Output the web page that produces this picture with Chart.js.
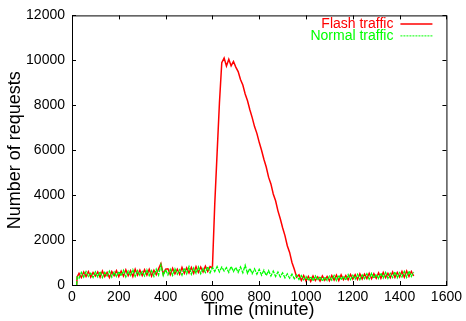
<!DOCTYPE html>
<html>
<head>
<meta charset="utf-8">
<script src="https://cdn.jsdelivr.net/npm/chart.js@4/dist/chart.umd.min.js"></script>
<style>
  html, body { margin: 0; padding: 0; background: #fff; }
  canvas { display: block; }
</style>
</head>
<body>
<canvas id="traffic" width="466" height="321"></canvas>
<script>
// time axis (minutes)
const minutes = [
  20, 22, 30, 40, 50, 60, 70, 80, 90, 100,
  110, 120, 130, 140, 150, 160, 170, 180, 190, 200,
  210, 220, 230, 240, 250, 260, 270, 280, 290, 300,
  310, 320, 330, 340, 350, 360, 370, 380, 390, 400,
  410, 420, 430, 440, 450, 460, 470, 480, 490, 500,
  510, 520, 530, 540, 550, 560, 570, 580, 590, 600,
  610, 620, 630, 640, 650, 660, 670, 680, 690, 700,
  710, 720, 730, 740, 750, 760, 770, 780, 790, 800,
  810, 820, 830, 840, 850, 860, 870, 880, 890, 900,
  910, 920, 930, 940, 950, 960, 970, 980, 990, 1000,
  1010, 1020, 1030, 1040, 1050, 1060, 1070, 1080, 1090, 1100,
  1110, 1120, 1130, 1140, 1150, 1160, 1170, 1180, 1190, 1200,
  1210, 1220, 1230, 1240, 1250, 1260, 1270, 1280, 1290, 1300,
  1310, 1320, 1330, 1340, 1350, 1360, 1370, 1380, 1390, 1400,
  1410, 1420, 1430, 1440, 1450, 1460
]

const flashTraffic = [
  0, 360, 520, 330, 580, 380, 600, 350, 560, 400,
  580, 340, 620, 380, 560, 330, 600, 420, 640, 380,
  620, 400, 680, 420, 640, 380, 700, 440, 660, 420,
  680, 440, 700, 400, 660, 460, 720, 950, 480, 700,
  720, 460, 740, 500, 700, 480, 780, 520, 760, 540,
  780, 520, 820, 560, 800, 580, 840, 600, 820, 760,
  3600, 5860, 8100, 9900, 10100, 9750, 10050, 9750, 9950, 9700,
  9500, 9150, 8900, 8500, 8200, 7800, 7450, 7050, 6750, 6350,
  6000, 5600, 5250, 4800, 4500, 4050, 3750, 3300, 2950, 2550,
  2200, 1750, 1450, 1000, 700, 350, 450, 200, 420, 180,
  380, 160, 400, 200, 360, 170, 400, 210, 380, 190,
  420, 220, 440, 200, 450, 240, 420, 230, 470, 260,
  460, 250, 500, 270, 480, 290, 520, 280, 500, 300,
  540, 300, 560, 330, 520, 320, 580, 340, 560, 360,
  600, 350, 620, 380, 600, 400
]

const normalTraffic = [
  0, 360, 300, 560, 350, 600, 380, 520, 330, 580,
  360, 600, 330, 560, 400, 620, 350, 580, 380, 600,
  400, 650, 360, 620, 420, 680, 380, 640, 430, 600,
  400, 680, 420, 640, 380, 700, 440, 900, 420, 680,
  450, 700, 430, 720, 480, 680, 440, 760, 500, 820,
  480, 760, 520, 800, 500, 740, 560, 820, 540, 780,
  600, 820, 580, 800, 620, 780, 560, 830, 600, 780,
  560, 800, 540, 880, 520, 740, 500, 720, 480, 700,
  440, 660, 420, 640, 400, 620, 380, 580, 360, 540,
  320, 500, 300, 480, 280, 440, 250, 420, 230, 380,
  200, 380, 180, 400, 210, 380, 170, 360, 200, 390,
  220, 420, 200, 440, 230, 400, 210, 460, 240, 430,
  260, 480, 240, 450, 280, 500, 260, 520, 300, 480,
  290, 530, 310, 560, 300, 520, 330, 580, 320, 550,
  360, 600, 340, 620, 380, 580
]

const xTicks = [0, 200, 400, 600, 800, 1000, 1200, 1400, 1600]
const yTicks = [0, 2000, 4000, 6000, 8000, 10000, 12000]

const FONT = "'Liberation Sans', Arial, Helvetica, sans-serif"

// gnuplot style frame with inward ticks on all four sides + key in top right
const gnuplotFrame = {
    id: "gnuplotFrame",
    afterDraw(chart) {
        const { ctx, chartArea: a, scales } = chart
        ctx.save()
        ctx.strokeStyle = "#000"
        ctx.lineWidth = 1
        ctx.strokeRect(a.left + 0.5, a.top + 0.5, a.right - a.left, a.bottom - a.top)
        ctx.beginPath()
        xTicks.forEach(v => {
            const px = Math.round(scales.x.getPixelForValue(v)) + 0.5
            ctx.moveTo(px, a.bottom); ctx.lineTo(px, a.bottom - 4)
            ctx.moveTo(px, a.top); ctx.lineTo(px, a.top + 4)
        })
        yTicks.forEach(v => {
            const py = Math.round(scales.y.getPixelForValue(v)) + 0.5
            ctx.moveTo(a.left, py); ctx.lineTo(a.left + 4, py)
            ctx.moveTo(a.right, py); ctx.lineTo(a.right - 4, py)
        })
        ctx.stroke()

        // key
        ctx.font = "14px " + FONT
        ctx.textAlign = "right"
        ctx.textBaseline = "alphabetic"
        chart.data.datasets.forEach((ds, i) => {
            const base = a.top + 13 + i * 12
            ctx.fillStyle = ds.borderColor
            ctx.fillText(ds.label, a.right - 53, base)
            ctx.beginPath()
            ctx.strokeStyle = ds.borderColor
            ctx.lineWidth = i === 0 ? 1.5 : 1
            ctx.setLineDash(i === 0 ? [] : [2, 1])
            ctx.moveTo(a.right - 46, base - 4.5)
            ctx.lineTo(a.right - 14, base - 4.5)
            ctx.stroke()
        })
        ctx.restore()
    }
}

const obj = document.getElementById("traffic")

new Chart(obj, {
    type: "line",
    data: {
        datasets: [
            {
                label: "Flash traffic",
                data: minutes.map((m, i) => ({ x: m, y: flashTraffic[i] })),
                borderColor: "#ff0000",
                borderWidth: 1.5,
                pointRadius: 0,
                order: 2
            },
            {
                label: "Normal traffic",
                data: minutes.map((m, i) => ({ x: m, y: normalTraffic[i] })),
                borderColor: "#00ff00",
                borderWidth: 1.3,
                borderDash: [4, 1],
                pointRadius: 0,
                order: 1
            }
        ]
    },
    options: {
        responsive: false,
        animation: false,
        devicePixelRatio: 1,
        layout: { padding: { top: 10, right: 16, left: 0, bottom: 0 } },
        plugins: { legend: { display: false }, tooltip: { enabled: false } },
        scales: {
            x: {
                type: "linear",
                min: 0,
                max: 1600,
                afterFit: s => { s.height = 36 },
                afterBuildTicks: s => { s.ticks = xTicks.map(v => ({ value: v })) },
                grid: { display: false, drawTicks: false },
                border: { display: false },
                ticks: {
                    color: "#000", padding: 4, maxRotation: 0,
                    font: { family: FONT, size: 14 },
                    callback: v => String(v)
                },
                title: {
                    display: true,
                    text: "Time (minute)",
                    color: "#000",
                    padding: { top: 0, bottom: 0 },
                    font: { family: FONT, size: 18 }
                }
            },
            y: {
                min: 0,
                max: 12000,
                afterFit: s => { s.width = 72 },
                afterBuildTicks: s => { s.ticks = yTicks.map(v => ({ value: v })) },
                grid: { display: false, drawTicks: false },
                border: { display: false },
                ticks: {
                    color: "#000", padding: 7,
                    font: { family: FONT, size: 14 },
                    callback: v => String(v)
                },
                title: {
                    display: true,
                    text: "Number of requests",
                    color: "#000",
                    padding: { top: 4, bottom: 0 },
                    font: { family: FONT, size: 18 }
                }
            }
        }
    },
    plugins: [gnuplotFrame]
})
</script>
</body>
</html>
